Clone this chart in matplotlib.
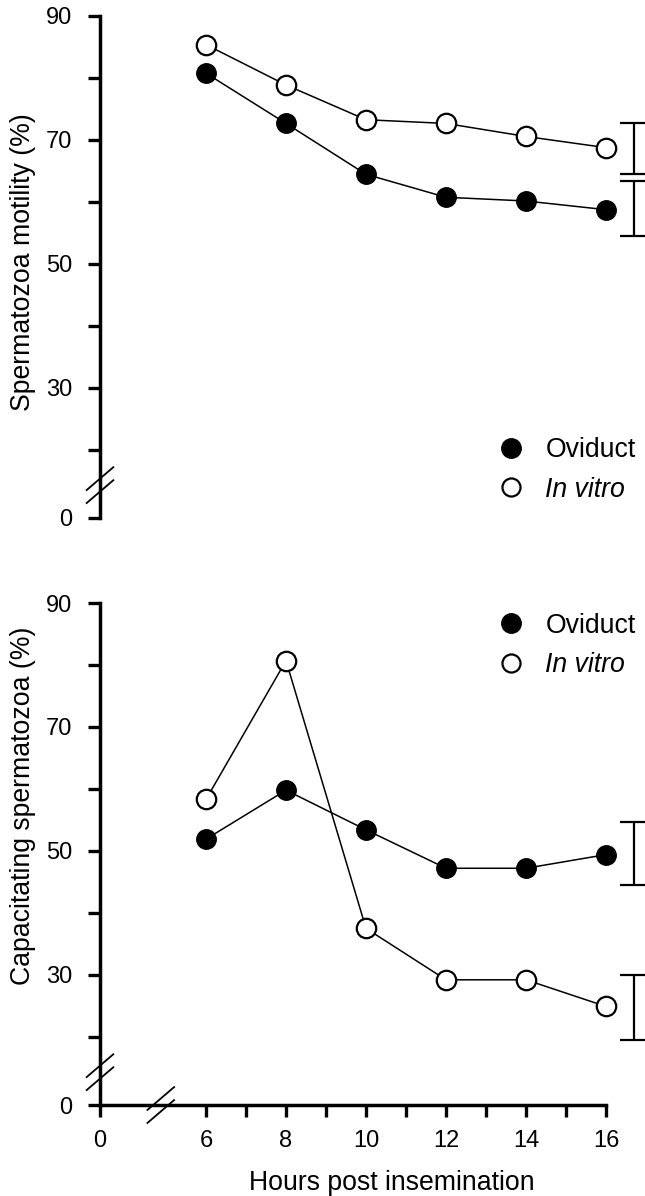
import numpy as np
import matplotlib
matplotlib.use('Agg')
import matplotlib.pyplot as plt
from matplotlib.lines import Line2D
from matplotlib.transforms import ScaledTranslation

plt.rcParams['font.family'] = ['Liberation Sans', 'DejaVu Sans']

# Data
hours = [6, 8, 10, 12, 14, 16]

motility_oviduct = [80.7, 72.6, 64.4, 60.7, 60.1, 58.7]
motility_invitro = [85.3, 78.8, 73.2, 72.6, 70.5, 68.7]

capac_oviduct = [51.9, 59.8, 53.4, 47.2, 47.2, 49.4]
capac_invitro = [58.3, 80.7, 37.5, 29.2, 29.2, 24.9]

# representative SE bars drawn at the right edge (upper end, lower end)
motility_err_hi = [72.7, 63.3]
motility_err_lo = [64.4, 54.4]
capac_err_hi = [54.7, 30.0]
capac_err_lo = [44.5, 19.5]
err_x = 16.7

# broken axes: "0" is drawn at these positions
x_zero = 3.35
y_zero = 9.0

ytick_pos = [y_zero, 20, 30, 40, 50, 60, 70, 80, 90]
ytick_lab = ['0', '', '30', '', '50', '', '70', '', '90']
xtick_pos = [x_zero, 6, 7, 8, 9, 10, 11, 12, 13, 14, 15, 16]
xtick_lab = ['0', '6', '', '8', '', '10', '', '12', '', '14', '', '16']

FS_TICK = 17
FS_LAB = 19.2
LW = 1.1
MS = 14

fig = plt.figure(figsize=(6.45, 11.96), dpi=100)
ax1 = fig.add_axes([100/645, 1 - 518/1196, 545/645, 502.5/1196])
ax2 = fig.add_axes([100/645, 1 - 1105/1196, 545/645, 502/1196])


def break_mark(ax, x, y):
    # two short parallel slashes centred on (x, y) in data coords
    trans = fig.dpi_scale_trans + ScaledTranslation(x, y, ax.transData)
    for off in (-0.065, 0.065):
        ax.plot([-0.14, 0.14], [off - 0.12, off + 0.12], color='k', lw=1.3,
                transform=trans, clip_on=False, solid_capstyle='butt')


def style_axes(ax):
    ax.set_xlim(x_zero, x_zero + 545/40)
    ax.set_ylim(y_zero, 90)
    for s in ['top', 'right']:
        ax.spines[s].set_visible(False)
    ax.spines['left'].set_linewidth(2.5)
    ax.spines['bottom'].set_linewidth(2.5)
    ax.set_yticks(ytick_pos)
    ax.set_yticklabels(ytick_lab)
    ax.tick_params(axis='both', direction='out', length=8.6, width=2.4,
                   labelsize=FS_TICK, pad=11.5)


for ax, ov, iv, hi, lo in [(ax1, motility_oviduct, motility_invitro, motility_err_hi, motility_err_lo),
                           (ax2, capac_oviduct, capac_invitro, capac_err_hi, capac_err_lo)]:
    style_axes(ax)
    ax.plot(hours, iv, '-o', color='k', lw=LW, ms=MS, mfc='white', mec='k',
            mew=1.6, clip_on=False, zorder=3)
    ax.plot(hours, ov, '-o', color='k', lw=LW, ms=MS, mfc='k', mec='k',
            clip_on=False, zorder=4)
    hi = np.array(hi)
    lo = np.array(lo)
    ax.errorbar([err_x] * len(hi), (hi + lo) / 2, yerr=(hi - lo) / 2, fmt='none',
                ecolor='k', elinewidth=1.6, capsize=10, capthick=1.6, clip_on=False)
    break_mark(ax, 3.35, 14.3)

# top panel: no x axis
ax1.spines['bottom'].set_visible(False)
ax1.tick_params(axis='x', bottom=False, labelbottom=False)

# bottom panel x axis
ax2.spines['bottom'].set_bounds(x_zero, 16)
ax2.set_xticks(xtick_pos)
ax2.set_xticklabels(xtick_lab)
ax2.tick_params(axis='x', pad=9.4)
break_mark(ax2, 4.87, y_zero)

ax1.set_ylabel('Spermatozoa motility (%)', fontsize=FS_LAB)
ax1.yaxis.set_label_coords(-0.118, 0.51)
ax2.set_ylabel('Capacitating spermatozoa (%)', fontsize=FS_LAB)
ax2.yaxis.set_label_coords(-0.118, 0.596)
ax2.set_xlabel('Hours post insemination', fontsize=FS_LAB)
ax2.xaxis.set_label_coords(0.536, -0.13)

handles = [Line2D([], [], ls='none', marker='o', ms=MS, mfc='k', mec='k'),
           Line2D([], [], ls='none', marker='o', ms=MS - 1, mfc='white', mec='k', mew=1.6)]
names = ['Oviduct', 'In vitro']
for ax, ypos in [(ax1, 0.0955), (ax2, 0.916)]:
    leg = ax.legend(handles, names, loc='center left', bbox_to_anchor=(0.729, ypos),
                    frameon=False, fontsize=FS_LAB, handlelength=1.0,
                    handletextpad=0.8, labelspacing=0.5, borderpad=0, borderaxespad=0)
    leg.get_texts()[1].set_style('italic')

fig.savefig('out.png', dpi=100)
